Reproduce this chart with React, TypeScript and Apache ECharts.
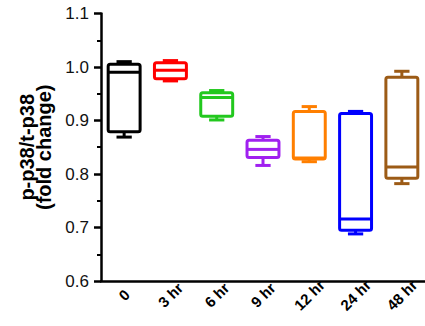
import React, { useEffect, useRef } from "react";
import * as echarts from "echarts";

const categories = ["0", "3 hr", "6 hr", "9 hr", "12 hr", "24 hr", "48 hr"];
const minVals = [0.869, 0.974, 0.901, 0.816, 0.823, 0.688, 0.782];
const q1Vals = [0.879, 0.978, 0.908, 0.831, 0.828, 0.695, 0.792];
const medianVals = [0.99, 0.994, 0.943, 0.846, 0.83, 0.716, 0.813];
const q3Vals = [1.005, 1.008, 0.952, 0.863, 0.917, 0.913, 0.981];
const maxVals = [1.01, 1.012, 0.956, 0.87, 0.926, 0.917, 0.992];
const colors = ["#000000", "#ff0000", "#22c81e", "#a020f0", "#ff7f00", "#0000ff", "#9c5b16"];
const yTicks = { min: 0.6, max: 1.1, interval: 0.1 };

export default function App() {
  const ref = useRef<HTMLDivElement>(null);
  useEffect(() => {
    if (!ref.current) return;
    const chart = echarts.init(ref.current, null, { renderer: "svg" });
    const data = categories.map((_, i) => [i, minVals[i], q1Vals[i], medianVals[i], q3Vals[i], maxVals[i]]);
    chart.setOption({
      animation: false,
      grid: { left: 101, top: 13.5, height: 267.5, width: 332.5 },
      xAxis: {
        type: "category",
        data: categories,
        boundaryGap: true,
        axisLine: { lineStyle: { color: "#000", width: 2.5 } },
        axisTick: { alignWithLabel: true, length: 7, lineStyle: { color: "#000", width: 2.5 } },
        axisLabel: {
          rotate: 45,
          margin: 14,
          interval: 0,
          hideOverlap: false,
          color: "#000",
          fontFamily: "Liberation Sans, Arial, sans-serif",
          fontWeight: "bold",
          fontSize: 15,
          align: "center",
          verticalAlign: "middle",
        },
        splitLine: { show: false },
      },
      yAxis: {
        type: "value",
        min: yTicks.min,
        max: yTicks.max,
        interval: yTicks.interval,
        name: "p-p38/t-p38\n(fold change)",
        nameLocation: "middle",
        nameGap: 49,
        nameTextStyle: {
          color: "#000",
          fontFamily: "Liberation Sans, Arial, sans-serif",
          fontWeight: "bold",
          fontSize: 20,
          lineHeight: 17,
        },
        axisLine: { show: true, lineStyle: { color: "#000", width: 2.5 } },
        axisTick: { show: true, length: 7, lineStyle: { color: "#000", width: 2.5 } },
        minorTick: { show: true, splitNumber: 2, length: 4, lineStyle: { color: "#000", width: 2 } },
        axisLabel: {
          margin: 12,
          color: "#111",
          fontFamily: "Liberation Sans, Arial, sans-serif",
          fontSize: 17,
          formatter: (v: number) => v.toFixed(1),
        },
        splitLine: { show: false },
      },
      series: [
        {
          type: "custom",
          data,
          encode: { x: 0, y: [1, 2, 3, 4, 5] },
          renderItem: (params: any, api: any) => {
            const idx = api.value(0);
            const color = colors[params.dataIndex];
            const pMin = api.coord([idx, api.value(1)]);
            const pQ1 = api.coord([idx, api.value(2)]);
            const pMed = api.coord([idx, api.value(3)]);
            const pQ3 = api.coord([idx, api.value(4)]);
            const pMax = api.coord([idx, api.value(5)]);
            const band = api.size([1, 0])[0];
            const bw = band * 0.69;
            const cw = band * 0.33;
            const cx = pMed[0];
            const lw = 3;
            return {
              type: "group",
              children: [
                { type: "line", shape: { x1: cx, y1: pQ3[1], x2: cx, y2: pMax[1] }, style: { stroke: color, lineWidth: lw } },
                { type: "line", shape: { x1: cx - cw / 2, y1: pMax[1], x2: cx + cw / 2, y2: pMax[1] }, style: { stroke: color, lineWidth: lw } },
                { type: "line", shape: { x1: cx, y1: pQ1[1], x2: cx, y2: pMin[1] }, style: { stroke: color, lineWidth: lw } },
                { type: "line", shape: { x1: cx - cw / 2, y1: pMin[1], x2: cx + cw / 2, y2: pMin[1] }, style: { stroke: color, lineWidth: lw } },
                {
                  type: "rect",
                  shape: { x: cx - bw / 2, y: pQ3[1], width: bw, height: pQ1[1] - pQ3[1], r: 2 },
                  style: { fill: "#fff", stroke: color, lineWidth: lw },
                },
                { type: "line", shape: { x1: cx - bw / 2, y1: pMed[1], x2: cx + bw / 2, y2: pMed[1] }, style: { stroke: color, lineWidth: lw } },
              ],
            };
          },
        },
      ],
    });
    return () => chart.dispose();
  }, []);
  return (
    <div
      ref={ref}
      style={{ position: "absolute", left: 0, top: 0, width: 425, height: 326, background: "#fff" }}
    />
  );
}
